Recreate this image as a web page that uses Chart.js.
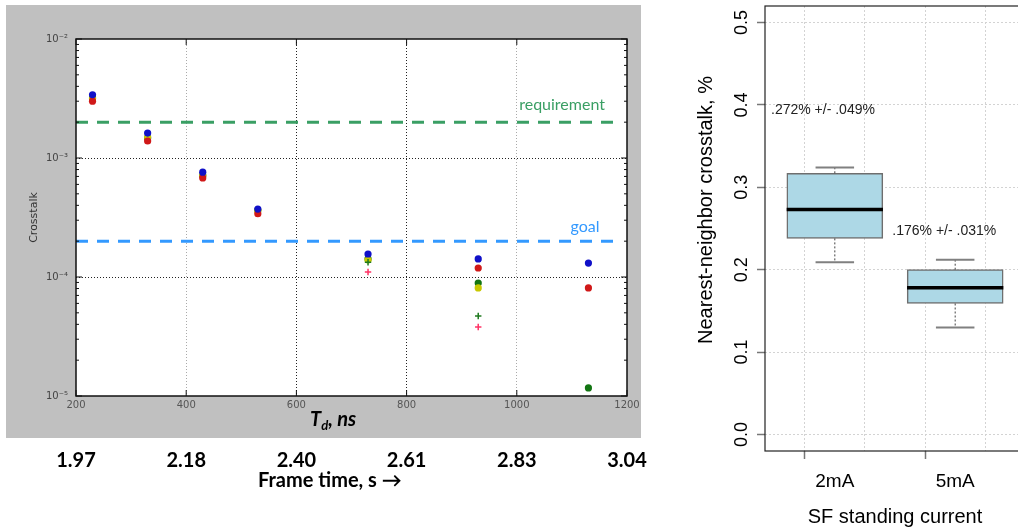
<!DOCTYPE html>
<html>
<head>
<meta charset="utf-8">
<script src="https://cdn.jsdelivr.net/npm/chart.js@4.4.1/dist/chart.umd.min.js"></script>
<style>
  html, body { margin: 0; padding: 0; width: 1018px; height: 530px; overflow: hidden; background: #fff; }
  #leftPanel { position: absolute; left: 6px; top: 5px; width: 635px; height: 433px; background: #c0c0c0; }
  #leftBox { position: absolute; left: 6px; top: 5px; width: 655px; height: 495px; }
  #rightBox { position: absolute; left: 660px; top: 0; width: 380px; height: 530px; }
  .lbl { position: absolute; white-space: nowrap; color: #000; }
  #tdTitle { left: 310px; top: 406px; font: italic bold 20px Lato; line-height: 24px; }
  #tdTitle span { font-size: 13px; position: relative; top: 4px; }
  #frameTitle { left: 258px; top: 467px; font: bold 20px Lato; line-height: 24px; }
  #rightYTitle { left: 545px; top: 198px; width: 320px; height: 24px; text-align: center;
    font: 20px "Liberation Sans"; line-height: 24px; transform: rotate(-90deg); }
</style>
</head>
<body>
<div id="leftPanel"></div>
<div id="leftBox"><canvas id="leftChart"></canvas></div>
<div id="rightBox"><canvas id="rightChart"></canvas></div>
<div class="lbl" id="tdTitle">T<span>d</span>, ns</div>
<div class="lbl" id="frameTitle">Frame time, s &#x2192;</div>
<div class="lbl" id="rightYTitle">Nearest-neighbor crosstalk, %</div>
<script>
// ---- left plot: crosstalk vs T_d ----
const tdValues = [230, 330, 430, 530, 730, 930, 1130];
const blueCrosstalk = [3.4e-3, 1.62e-3, 7.6e-4, 3.72e-4, 1.56e-4, 1.42e-4, 1.31e-4];
const redCrosstalk = [3.0e-3, 1.39e-3, 6.8e-4, 3.4e-4, null, 1.19e-4, 8.1e-5];
const yellowCrosstalk = [3.15e-3, 1.5e-3, 7.2e-4, 3.6e-4, 1.39e-4, 8.1e-5, null];
const greenCrosstalk = [3.2e-3, 1.47e-3, 7.1e-4, 3.65e-4, 1.42e-4, 8.9e-5, 1.17e-5];
const greenPlusCrosstalk = [null, null, null, null, 1.33e-4, 4.7e-5, null];
const redPlusCrosstalk = [null, null, null, null, 1.10e-4, 3.8e-5, null];

const xTickValues = [200, 400, 600, 800, 1000, 1200];
const frameTimeLabels = ['1.97', '2.18', '2.40', '2.61', '2.83', '3.04'];
const yDecades = [-5, -4, -3, -2];
const requirementLevel = 2e-3;
const goalLevel = 2e-4;
const thresholdSpan = [200, 1185];

// ---- right plot: boxplot ----
const groups = ['2mA', '5mA'];
const groupPositions = [1, 2];
const lowerWhisker = [0.209, 0.130];
const q1 = [0.238, 0.159];
const median = [0.273, 0.178];
const q3 = [0.317, 0.200];
const upperWhisker = [0.324, 0.212];
const groupNotes = ['.272% +/- .049%', '.176% +/- .031%'];
const yTickValues = [0, 0.1, 0.2, 0.3, 0.4, 0.5];
const xGridValues = [0.5, 1, 1.5, 2, 2.5];

const supMap = { '-': '\u207B', '0': '\u2070', '1': '\u00B9', '2': '\u00B2', '3': '\u00B3', '4': '\u2074', '5': '\u2075', '6': '\u2076', '7': '\u2077', '8': '\u2078', '9': '\u2079' };
const isDecade = v => Math.abs(Math.log10(v) - Math.round(Math.log10(v))) < 1e-6;

const yTickList = [];
yDecades.forEach((e, i) => {
  if (i === yDecades.length - 1) { yTickList.push(Math.pow(10, e)); return; }
  for (let m = 1; m <= 9; m++) yTickList.push(m * Math.pow(10, e));
});

// keep edge labels from pushing the plot area in
function noEdgePadding(s) {
  s.paddingLeft = 0; s.paddingRight = 0; s.paddingTop = 0; s.paddingBottom = 0;
}

function points(series) {
  const out = [];
  tdValues.forEach((x, i) => { if (series[i] != null) out.push({ x: x, y: series[i] }); });
  return out;
}

function dots(series, color) {
  return { data: points(series), backgroundColor: color, borderColor: color, borderWidth: 0, pointRadius: 3.6, pointStyle: 'circle' };
}

function pluses(series, color) {
  return { data: points(series), backgroundColor: color, borderColor: color, borderWidth: 1.5, pointRadius: 3.2, pointStyle: 'cross' };
}

function threshold(level, color) {
  return {
    data: thresholdSpan.map(x => ({ x: x, y: level })), showLine: true, borderColor: color,
    borderWidth: 3, borderDash: [12, 9], pointRadius: 0
  };
}

const leftDecor = {
  id: 'leftDecor',
  beforeDraw(chart) {
    const { ctx, chartArea: a } = chart;
    ctx.save();
    ctx.fillStyle = '#fff';
    ctx.fillRect(a.left, a.top, a.right - a.left, a.bottom - a.top);
    ctx.restore();
  },
  afterDraw(chart) {
    const { ctx, chartArea: a, scales } = chart;
    ctx.save();
    ctx.strokeStyle = '#111';
    ctx.lineWidth = 1.5;
    ctx.strokeRect(a.left, a.top, a.right - a.left, a.bottom - a.top);
    ctx.lineWidth = 1;
    ctx.beginPath();
    scales.y.ticks.forEach(t => {
      const py = scales.y.getPixelForValue(t.value);
      const len = isDecade(t.value) ? 6 : 3;
      ctx.moveTo(a.left, py); ctx.lineTo(a.left + len, py);
      ctx.moveTo(a.right, py); ctx.lineTo(a.right - len, py);
    });
    scales.x.ticks.forEach(t => {
      const px = scales.x.getPixelForValue(t.value);
      ctx.moveTo(px, a.bottom); ctx.lineTo(px, a.bottom - 6);
      ctx.moveTo(px, a.top); ctx.lineTo(px, a.top + 6);
    });
    ctx.stroke();
    // threshold labels
    ctx.font = '16px Lato';
    ctx.textAlign = 'right';
    ctx.textBaseline = 'middle';
    ctx.fillStyle = '#3a9f64';
    ctx.fillText('requirement', scales.x.getPixelForValue(1160), scales.y.getPixelForValue(requirementLevel) - 17);
    ctx.fillStyle = '#3399ff';
    ctx.fillText('goal', scales.x.getPixelForValue(1150), scales.y.getPixelForValue(goalLevel) - 14);
    ctx.restore();
  }
};

new Chart(document.getElementById('leftChart'), {
  type: 'scatter',
  data: {
    datasets: [
      dots(blueCrosstalk, '#1010c8'),
      pluses(greenPlusCrosstalk, '#1f7a1f'),
      pluses(redPlusCrosstalk, '#ff3366'),
      dots(redCrosstalk, '#d01818'),
      dots(yellowCrosstalk, '#c8c800'),
      dots(greenCrosstalk, '#127512'),
      threshold(requirementLevel, '#3a9f64'),
      threshold(goalLevel, '#3399ff')
    ]
  },
  options: {
    responsive: true,
    maintainAspectRatio: false,
    animation: false,
    layout: { padding: { left: 0, top: 34, right: 34, bottom: 0 } },
    plugins: { legend: { display: false }, tooltip: { enabled: false } },
    scales: {
      x: {
        type: 'linear', min: 200, max: 1200,
        afterBuildTicks: s => { s.ticks = xTickValues.map(v => ({ value: v })); },
        afterFit: s => { s.height = 41; noEdgePadding(s); },
        ticks: {
          padding: 3, autoSkip: false, maxRotation: 0, font: { family: 'DejaVu Sans', size: 10 }, color: '#555',
          callback: v => String(v)
        },
        grid: {
          drawTicks: false, lineWidth: 1,
          color: c => {
            const v = c.tick && c.tick.value;
            if (v === 600 || v === 800) return '#222';
            if (v === 400 || v === 1000) return '#aaa';
            return 'transparent';
          }
        },
        border: { display: false, dash: [1, 2] }
      },
      x2: {
        type: 'linear', position: 'bottom', weight: 1, min: 200, max: 1200,
        afterBuildTicks: s => { s.ticks = xTickValues.map(v => ({ value: v })); },
        afterFit: s => { s.height = 63; noEdgePadding(s); },
        ticks: {
          padding: 4, autoSkip: false, maxRotation: 0, color: '#000',
          font: { family: 'Lato', size: 20, weight: 'bold' },
          callback: v => frameTimeLabels[xTickValues.indexOf(v)]
        },
        grid: { display: false },
        border: { display: false }
      },
      y: {
        type: 'logarithmic', min: 1e-5, max: 1e-2,
        afterBuildTicks: s => { s.ticks = yTickList.map(v => ({ value: v })); },
        afterFit: s => { s.width = 70; noEdgePadding(s); },
        ticks: {
          autoSkip: false, padding: 8, color: '#444',
          font: { family: 'DejaVu Sans', size: 10 },
          callback: v => {
            if (!isDecade(v)) return '';
            const e = String(Math.round(Math.log10(v)));
            return '10' + e.split('').map(ch => supMap[ch]).join('');
          }
        },
        grid: {
          drawTicks: false, lineWidth: 1,
          color: c => {
            const v = c.tick && c.tick.value;
            if (!v || !isDecade(v)) return 'transparent';
            const e = Math.round(Math.log10(v));
            return (e === -3 || e === -4) ? '#222' : 'transparent';
          }
        },
        border: { display: false, dash: [1, 2] },
        title: { display: true, text: 'Crosstalk', color: '#333', font: { family: 'DejaVu Sans', size: 11 }, padding: { top: 22, bottom: 0 } }
      }
    }
  },
  plugins: [leftDecor]
});

// ---- right chart ----
const capHalf = 0.16;
const boxHalf = 0.4;

function segments(build) {
  const out = [];
  groupPositions.forEach((p, i) => {
    build(p, i).forEach(seg => {
      out.push(seg[0], seg[1], { x: seg[1].x, y: null });
    });
  });
  return out;
}

const rightDecor = {
  id: 'rightDecor',
  afterDraw(chart) {
    const { ctx, chartArea: a, scales } = chart;
    ctx.save();
    ctx.strokeStyle = '#222';
    ctx.lineWidth = 1.2;
    ctx.strokeRect(a.left, a.top, a.right - a.left, a.bottom - a.top);
    ctx.font = '14px "Liberation Sans"';
    ctx.fillStyle = '#222';
    ctx.textAlign = 'left';
    ctx.textBaseline = 'middle';
    const spots = [[0.47, 0.394], [1.478, 0.247]];
    groupNotes.forEach((t, i) => {
      ctx.fillText(t, scales.x.getPixelForValue(spots[i][0]), scales.y.getPixelForValue(spots[i][1]));
    });
    ctx.restore();
  }
};

new Chart(document.getElementById('rightChart'), {
  type: 'bar',
  data: {
    datasets: [
      {
        type: 'line', borderColor: '#000', borderWidth: 3.5, pointRadius: 0, spanGaps: false,
        data: segments((p, i) => [[{ x: p - boxHalf, y: median[i] }, { x: p + boxHalf, y: median[i] }]])
      },
      {
        type: 'line', borderColor: '#808080', borderWidth: 2, pointRadius: 0, spanGaps: false,
        data: segments((p, i) => [
          [{ x: p - capHalf, y: upperWhisker[i] }, { x: p + capHalf, y: upperWhisker[i] }],
          [{ x: p - capHalf, y: lowerWhisker[i] }, { x: p + capHalf, y: lowerWhisker[i] }]
        ])
      },
      {
        type: 'line', borderColor: '#444', borderWidth: 1, borderDash: [2, 2], pointRadius: 0, spanGaps: false,
        data: segments((p, i) => [
          [{ x: p, y: q3[i] }, { x: p, y: upperWhisker[i] }],
          [{ x: p, y: q1[i] }, { x: p, y: lowerWhisker[i] }]
        ])
      },
      {
        type: 'bar',
        data: groupPositions.map((p, i) => ({ x: p, y: [q1[i], q3[i]] })),
        backgroundColor: '#add8e6', borderColor: '#6e6e6e', borderWidth: 1.5,
        borderSkipped: false, barThickness: 96
      }
    ]
  },
  options: {
    responsive: true,
    maintainAspectRatio: false,
    animation: false,
    layout: { padding: { left: 0, top: 6, right: 15, bottom: 0 } },
    plugins: { legend: { display: false }, tooltip: { enabled: false } },
    scales: {
      x: {
        type: 'linear', min: 0.42, max: 2.58, offset: false,
        afterBuildTicks: s => { s.ticks = xGridValues.map(v => ({ value: v })); },
        afterFit: s => { s.height = 79; noEdgePadding(s); },
        ticks: {
          padding: 11, autoSkip: false, maxRotation: 0, color: '#000',
          font: { family: 'Liberation Sans', size: 19 },
          callback: v => { const k = groupPositions.indexOf(v); return k >= 0 ? groups[k] : ''; }
        },
        grid: {
          color: '#d3d3d3', lineWidth: 1, tickLength: 8, tickWidth: 1.5,
          tickColor: c => (c.tick && groupPositions.includes(c.tick.value)) ? '#777' : 'transparent'
        },
        border: { display: false, dash: [2, 2] },
        title: { display: true, text: 'SF standing current', color: '#000', font: { family: 'Liberation Sans', size: 20 }, padding: { top: 0, bottom: 1 } }
      },
      y: {
        type: 'linear', min: -0.02, max: 0.52,
        afterBuildTicks: s => { s.ticks = yTickValues.map(v => ({ value: v })); },
        afterFit: s => { s.width = 105; noEdgePadding(s); },
        ticks: {
          padding: 2, autoSkip: false, minRotation: 90, maxRotation: 90, crossAlign: 'center', color: '#000',
          font: { family: 'Liberation Sans', size: 18 },
          callback: v => v.toFixed(1)
        },
        grid: { color: '#d3d3d3', lineWidth: 1, tickLength: 8, tickWidth: 1.5, tickColor: '#777' },
        border: { display: false, dash: [2, 2] }
      }
    }
  },
  plugins: [rightDecor]
});
</script>
</body>
</html>
